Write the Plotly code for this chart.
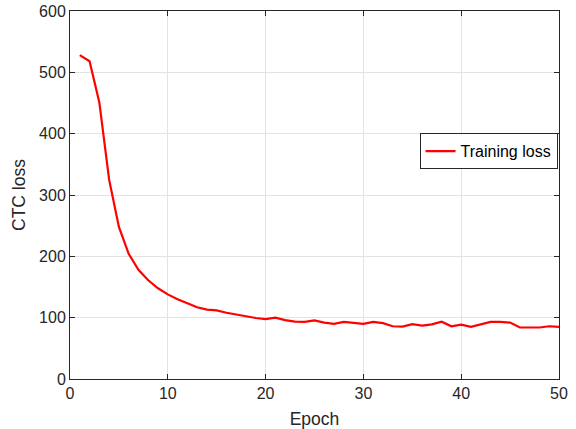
import plotly.graph_objects as go

epochs = list(range(1, 51))
train_loss = [528, 518, 451, 325, 248, 204, 178, 161, 148, 138,
              130, 123, 117, 113, 112, 108, 105, 102, 99.5, 97.5,
              100, 96, 93.5, 93, 95.5, 92, 90, 93, 91, 90,
              93, 91, 86, 85.5, 89.5, 87, 89, 93.5, 86, 88.5,
              85, 88.5, 93, 93, 92, 84, 83.7, 84, 86, 85]

x_ticks = [0, 10, 20, 30, 40, 50]
y_ticks = [0, 100, 200, 300, 400, 500, 600]

FONT = "Liberation Sans, Arial, sans-serif"
AX = "#262626"

fig = go.Figure()
fig.add_trace(go.Scatter(x=epochs, y=train_loss, mode="lines",
                         name="Training loss",
                         line=dict(color="#ff0000", width=2.2)))

axis_common = dict(showline=True, linecolor=AX, linewidth=1, mirror="allticks",
                   ticks="inside", ticklen=5, tickcolor=AX, automargin=False,
                   ticklabeloverflow="allow",
                   showgrid=True, gridcolor="#e3e3e3", gridwidth=1,
                   zeroline=False, tickfont=dict(family=FONT, size=16, color=AX))

fig.update_xaxes(range=[0, 50], tickvals=x_ticks,
                 title=dict(text="Epoch", font=dict(family=FONT, size=17.5, color=AX), standoff=11),
                 **axis_common)
fig.update_yaxes(range=[0, 600], tickvals=y_ticks,
                 title=dict(text="CTC loss", font=dict(family=FONT, size=17.5, color=AX), standoff=8),
                 **axis_common)

fig.update_layout(
    width=576, height=429,
    margin=dict(l=70, r=17, t=11, b=50),
    plot_bgcolor="white", paper_bgcolor="white",
    font=dict(family=FONT, size=16, color=AX),
    showlegend=True,
    legend=dict(x=0.997, xanchor="right", y=0.668, yanchor="top",
                bgcolor="white", bordercolor=AX, borderwidth=1,
                font=dict(family=FONT, size=16, color="black"),
                itemwidth=30, tracegroupgap=0),
)

# remove the page's default 8px body margin so the figure fills the window
fig.write_html("out.html", config={"displayModeBar": False},
               post_script="document.body.style.margin='0';")
